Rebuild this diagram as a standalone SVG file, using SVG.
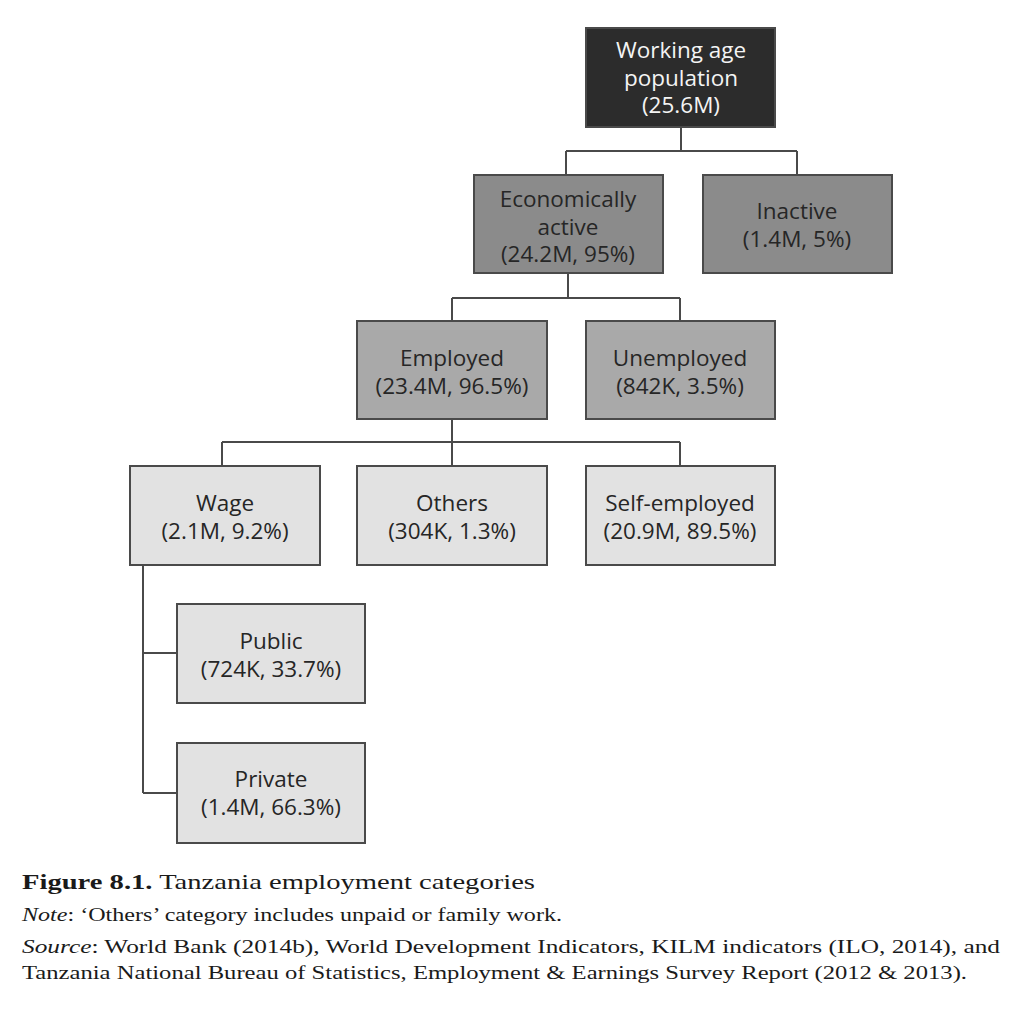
<svg xmlns="http://www.w3.org/2000/svg" width="1024" height="1021" viewBox="0 0 1024 1021">
<style>
.box{stroke:#4a4a4a;stroke-width:2}
.l0{fill:#2c2c2c}.l1{fill:#8b8b8b}.l2{fill:#a9a9a9}.l3{fill:#e2e2e2}
.t{font-family:"Open Sans","Noto Sans",sans-serif;font-size:22.5px;fill:#262626;text-anchor:middle}
.tw{fill:#f4f4f4}
.conn{fill:none;stroke:#4a4a4a;stroke-width:2}
.cap{font-family:"Liberation Serif",serif;fill:#1a1a1a}
</style>
<rect width="1024" height="1021" fill="#ffffff"/>
<g id="connectors">
<path class="conn" d="M681 127V151M566 151H797M566 151V175M797 151V175"/>
<path class="conn" d="M568 273V298M452 298H680M452 298V321M680 298V321"/>
<path class="conn" d="M452 419V442M222 442H680M222 442V466M452 442V466M680 442V466"/>
<path class="conn" d="M143 565V793M143 653H177M143 793H177"/>
</g>
<g id="n-working">
<rect class="box l0" x="586" y="28" width="189" height="99"/>
<text class="t tw" x="681" y="58">Working age</text>
<text class="t tw" x="681" y="86">population</text>
<text class="t tw" x="681" y="113">(25.6M)</text>
</g>
<g id="n-active">
<rect class="box l1" x="474" y="175" width="189" height="98"/>
<text class="t" x="568" y="207">Economically</text>
<text class="t" x="568" y="235">active</text>
<text class="t" x="568" y="262">(24.2M, 95%)</text>
</g>
<g id="n-inactive">
<rect class="box l1" x="703" y="175" width="189" height="98"/>
<text class="t" x="797" y="219">Inactive</text>
<text class="t" x="797" y="247">(1.4M, 5%)</text>
</g>
<g id="n-employed">
<rect class="box l2" x="357" y="321" width="190" height="98"/>
<text class="t" x="452" y="366">Employed</text>
<text class="t" x="452" y="394">(23.4M, 96.5%)</text>
</g>
<g id="n-unemployed">
<rect class="box l2" x="586" y="321" width="189" height="98"/>
<text class="t" x="680" y="366">Unemployed</text>
<text class="t" x="680" y="394">(842K, 3.5%)</text>
</g>
<g id="n-wage">
<rect class="box l3" x="130" y="466" width="190" height="99"/>
<text class="t" x="225" y="511">Wage</text>
<text class="t" x="225" y="539">(2.1M, 9.2%)</text>
</g>
<g id="n-others">
<rect class="box l3" x="357" y="466" width="190" height="99"/>
<text class="t" x="452" y="511">Others</text>
<text class="t" x="452" y="539">(304K, 1.3%)</text>
</g>
<g id="n-self">
<rect class="box l3" x="586" y="466" width="189" height="99"/>
<text class="t" x="680" y="511">Self-employed</text>
<text class="t" x="680" y="539">(20.9M, 89.5%)</text>
</g>
<g id="n-public">
<rect class="box l3" x="177" y="604" width="188" height="99"/>
<text class="t" x="271" y="649">Public</text>
<text class="t" x="271" y="677">(724K, 33.7%)</text>
</g>
<g id="n-private">
<rect class="box l3" x="177" y="743" width="188" height="100"/>
<text class="t" x="271" y="787">Private</text>
<text class="t" x="271" y="815">(1.4M, 66.3%)</text>
</g>
<g id="caption">
<text class="cap" x="22" y="889" font-size="22" textLength="513" lengthAdjust="spacingAndGlyphs"><tspan font-weight="bold">Figure 8.1.</tspan>  Tanzania employment categories</text>
<text class="cap" x="22" y="921" font-size="18" textLength="540" lengthAdjust="spacingAndGlyphs"><tspan font-style="italic">Note</tspan>: ‘Others’ category includes unpaid or family work.</text>
<text class="cap" x="22" y="953" font-size="18" textLength="978" lengthAdjust="spacingAndGlyphs"><tspan font-style="italic">Source</tspan>: World Bank (2014b), World Development Indicators, KILM indicators (ILO, 2014), and</text>
<text class="cap" x="22" y="979" font-size="18" textLength="945" lengthAdjust="spacingAndGlyphs">Tanzania National Bureau of Statistics, Employment &amp; Earnings Survey Report (2012 &amp; 2013).</text>
</g>
</svg>
